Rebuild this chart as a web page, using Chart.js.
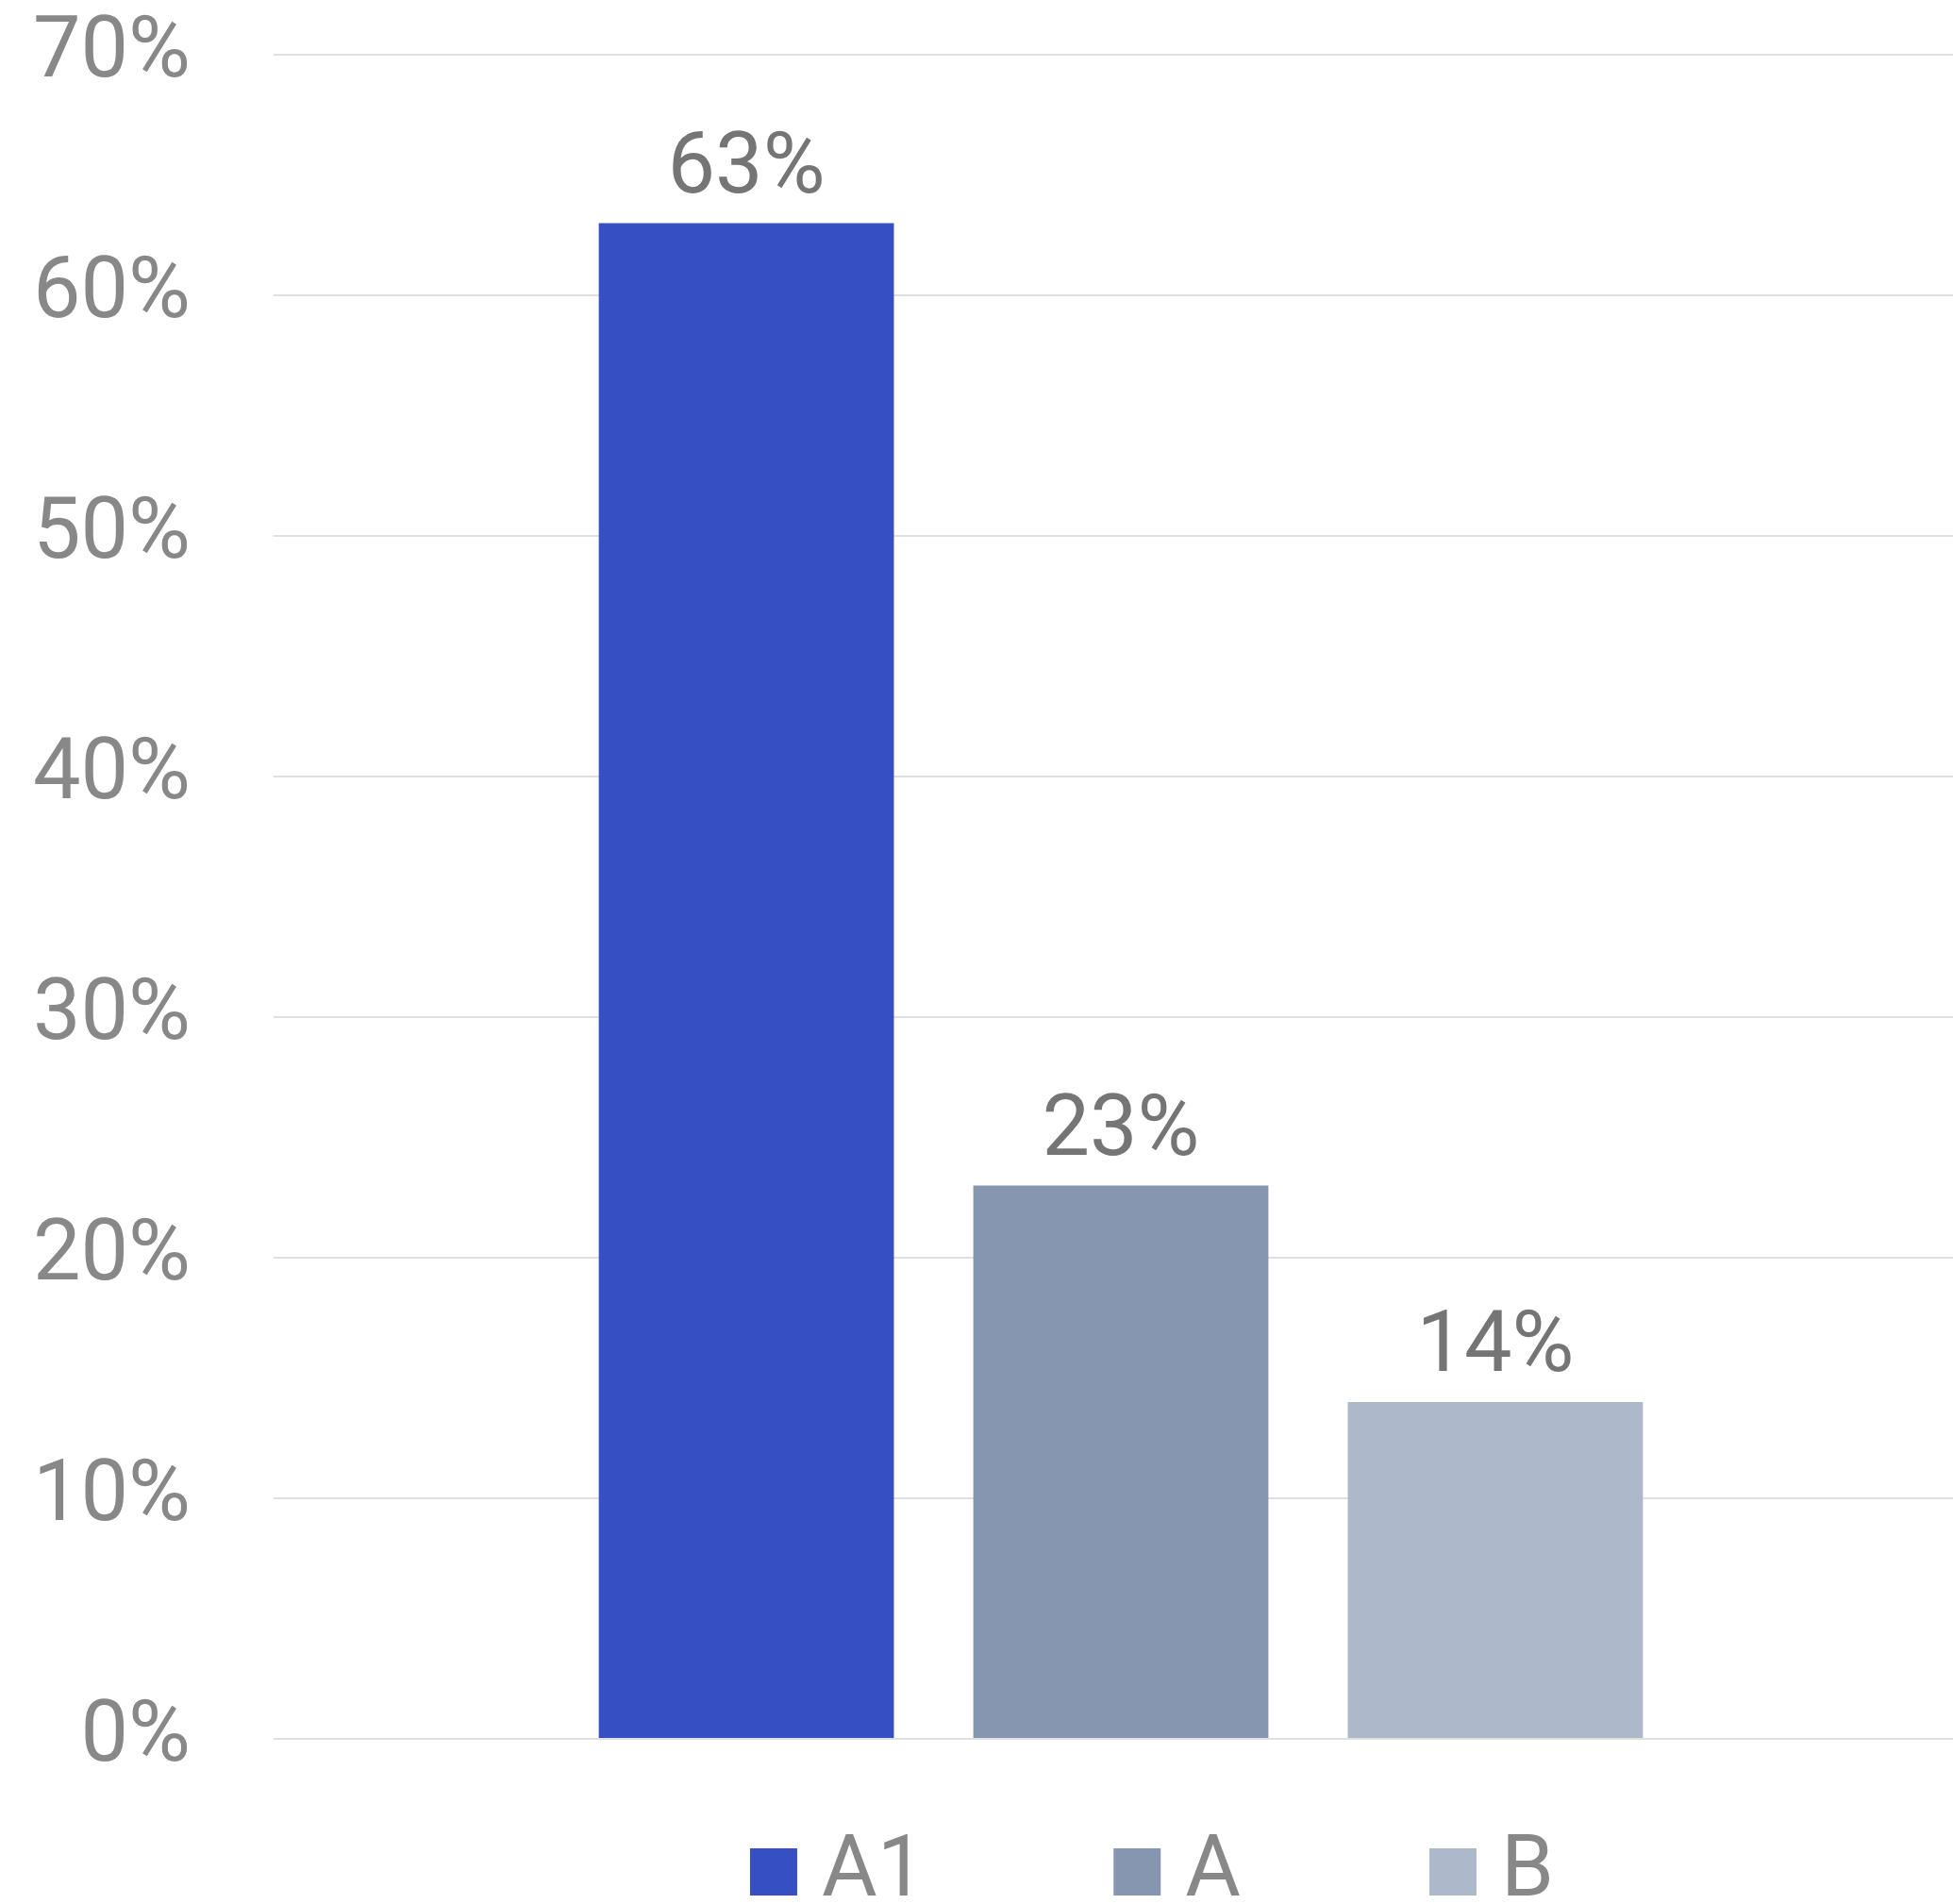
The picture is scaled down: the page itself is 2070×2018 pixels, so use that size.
<!DOCTYPE html>
<html>
<head>
<meta charset="utf-8">
<script src="https://cdn.jsdelivr.net/npm/chart.js@4/dist/chart.umd.min.js"></script>
<style>
  html, body { margin: 0; padding: 0; background: #fff; overflow: hidden; }
  #wrap { width: 2070px; height: 2018px; }
</style>
</head>
<body>
<div id="wrap"><canvas id="chart"></canvas></div>
<script>
// data
const categories = [''];
const seriesNames = ['A1', 'A', 'B'];
const seriesValues = [63, 23, 14];
const seriesColors = ['#3650C4', '#8796B0', '#ADB8CB'];
const yTicks = [0, 10, 20, 30, 40, 50, 60, 70];

const FONT = '90px Roboto';

// the bar group sits a little right of the plot centre in the original
const shiftGroup = {
  id: 'shiftGroup',
  afterLayout(chart) {
    const x = chart.scales.x;
    x.left += 8;
    x.right += 8;
    x.configure();
  }
};

// value labels above each bar
const barLabels = {
  id: 'barLabels',
  afterDatasetsDraw(chart) {
    const ctx = chart.ctx;
    ctx.save();
    ctx.font = FONT;
    ctx.fillStyle = '#757575';
    ctx.textAlign = 'center';
    ctx.textBaseline = 'alphabetic';
    chart.data.datasets.forEach((ds, i) => {
      chart.getDatasetMeta(i).data.forEach((bar, j) => {
        ctx.fillText(ds.data[j] + '%', bar.x, bar.y - 33);
      });
    });
    ctx.restore();
  }
};

// legend row under the plot (square swatch + name)
const bottomLegend = {
  id: 'bottomLegend',
  afterDraw(chart) {
    const ctx = chart.ctx;
    const box = 50, gapText = 26, gapItem = 200;
    const area = chart.chartArea;
    ctx.save();
    ctx.font = FONT;
    ctx.textBaseline = 'alphabetic';
    ctx.textAlign = 'left';
    const items = chart.data.datasets.map(ds => ({
      text: ds.label,
      color: ds.backgroundColor,
      w: box + gapText + ctx.measureText(ds.label).width
    }));
    const total = items.reduce((s, it) => s + it.w, 0) + gapItem * (items.length - 1);
    let x = (area.left + area.right) / 2 + 41 - total / 2;
    const base = area.bottom + 166;
    items.forEach(it => {
      ctx.fillStyle = it.color;
      ctx.fillRect(x, base - box, box, box);
      ctx.fillStyle = '#888888';
      ctx.fillText(it.text, x + box + gapText, base);
      x += it.w + gapItem;
    });
    ctx.restore();
  }
};

new Chart(document.getElementById('chart'), {
  type: 'bar',
  data: {
    labels: categories,
    datasets: seriesNames.map((name, i) => ({
      label: name,
      data: [seriesValues[i]],
      backgroundColor: seriesColors[i],
      categoryPercentage: 0.669,
      barPercentage: 0.788
    }))
  },
  options: {
    responsive: true,
    maintainAspectRatio: false,
    animation: false,
    layout: { padding: { top: 58, right: 0, bottom: 175, left: 0 } },
    plugins: {
      legend: { display: false },
      tooltip: { enabled: false }
    },
    scales: {
      x: {
        display: false
      },
      y: {
        min: 0,
        max: 70,
        afterFit: s => {
          s.width = 290;
          s.paddingTop = 0;
          s.paddingBottom = 0;
        },
        afterBuildTicks: s => { s.ticks = yTicks.map(v => ({ value: v })); },
        ticks: {
          padding: 88,
          font: { family: 'Roboto', size: 90 },
          color: '#888888',
          callback: v => v + '%'
        },
        grid: { color: '#e0e0e0', lineWidth: 2, drawTicks: false },
        border: { display: false }
      }
    }
  },
  plugins: [shiftGroup, barLabels, bottomLegend]
});
</script>
</body>
</html>
